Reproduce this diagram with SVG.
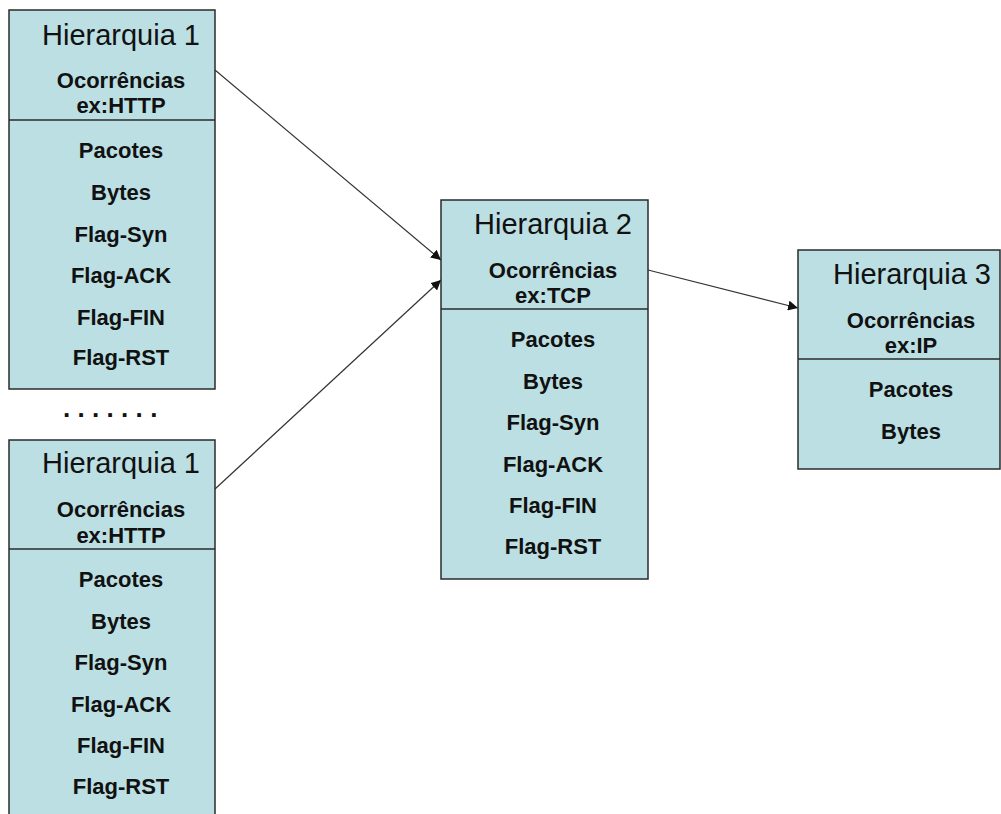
<svg xmlns="http://www.w3.org/2000/svg" width="1001" height="814" viewBox="0 0 1001 814">
  <style>
    .box { fill: #BBDFE3; stroke: #2b2b2b; stroke-width: 1.5; }
    .sep { stroke: #2b2b2b; stroke-width: 1.5; }
    .title { font-family: "Liberation Sans", Arial, sans-serif; font-size: 29px; fill: #111; text-anchor: middle; }
    .lbl { font-family: "Liberation Sans", Arial, sans-serif; font-size: 22px; font-weight: bold; fill: #111; text-anchor: middle; }
    .dots { font-family: "Liberation Sans", Arial, sans-serif; font-size: 26px; font-weight: bold; fill: #111; letter-spacing: 7.3px; }
    .conn { stroke: #333; stroke-width: 1.2; fill: none; marker-end: url(#arrow); }
  </style>
  <defs>
    <marker id="arrow" viewBox="0 0 10 10" refX="10" refY="5" markerWidth="10" markerHeight="10" markerUnits="userSpaceOnUse" orient="auto">
      <path d="M0,0 L10,5 L0,10 z" fill="#111"/>
    </marker>
  </defs>

  <rect width="1001" height="814" fill="#ffffff"/>

  <!-- connectors -->
  <g id="connectors">
    <line class="conn" x1="215" y1="70" x2="441" y2="260"/>
    <line class="conn" x1="215" y1="489" x2="441" y2="280"/>
    <line class="conn" x1="648" y1="270" x2="798" y2="308"/>
  </g>

  <!-- upper level-1 hierarchy -->
  <g id="hier1a">
    <rect class="box" x="9" y="10" width="206" height="379"/>
    <line class="sep" x1="9" y1="120" x2="215" y2="120"/>
    <text class="title" x="121" y="45">Hierarquia 1</text>
    <text class="lbl" x="121" y="88">Ocorrências</text>
    <text class="lbl" x="121" y="113">ex:HTTP</text>
    <text class="lbl" x="121" y="158">Pacotes</text>
    <text class="lbl" x="121" y="200">Bytes</text>
    <text class="lbl" x="121" y="242">Flag-Syn</text>
    <text class="lbl" x="121" y="283">Flag-ACK</text>
    <text class="lbl" x="121" y="325">Flag-FIN</text>
    <text class="lbl" x="121" y="365">Flag-RST</text>
  </g>

  <text id="ellipsis" class="dots" x="63" y="417">.......</text>

  <!-- lower level-1 hierarchy -->
  <g id="hier1b">
    <rect class="box" x="9" y="440" width="206" height="390"/>
    <line class="sep" x1="9" y1="549" x2="215" y2="549"/>
    <text class="title" x="121" y="473">Hierarquia 1</text>
    <text class="lbl" x="121" y="517">Ocorrências</text>
    <text class="lbl" x="121" y="543">ex:HTTP</text>
    <text class="lbl" x="121" y="587">Pacotes</text>
    <text class="lbl" x="121" y="629">Bytes</text>
    <text class="lbl" x="121" y="670">Flag-Syn</text>
    <text class="lbl" x="121" y="712">Flag-ACK</text>
    <text class="lbl" x="121" y="753">Flag-FIN</text>
    <text class="lbl" x="121" y="794">Flag-RST</text>
  </g>

  <!-- level-2 hierarchy -->
  <g id="hier2">
    <rect class="box" x="441" y="200" width="207" height="379"/>
    <line class="sep" x1="441" y1="309" x2="648" y2="309"/>
    <text class="title" x="553" y="234">Hierarquia 2</text>
    <text class="lbl" x="553" y="278">Ocorrências</text>
    <text class="lbl" x="553" y="303">ex:TCP</text>
    <text class="lbl" x="553" y="347">Pacotes</text>
    <text class="lbl" x="553" y="389">Bytes</text>
    <text class="lbl" x="553" y="430">Flag-Syn</text>
    <text class="lbl" x="553" y="472">Flag-ACK</text>
    <text class="lbl" x="553" y="513">Flag-FIN</text>
    <text class="lbl" x="553" y="554">Flag-RST</text>
  </g>

  <!-- level-3 hierarchy -->
  <g id="hier3">
    <rect class="box" x="798" y="250" width="202" height="219"/>
    <line class="sep" x1="798" y1="359" x2="1000" y2="359"/>
    <text class="title" x="912" y="284">Hierarquia 3</text>
    <text class="lbl" x="911" y="328">Ocorrências</text>
    <text class="lbl" x="911" y="353">ex:IP</text>
    <text class="lbl" x="911" y="397">Pacotes</text>
    <text class="lbl" x="911" y="439">Bytes</text>
  </g>
</svg>
